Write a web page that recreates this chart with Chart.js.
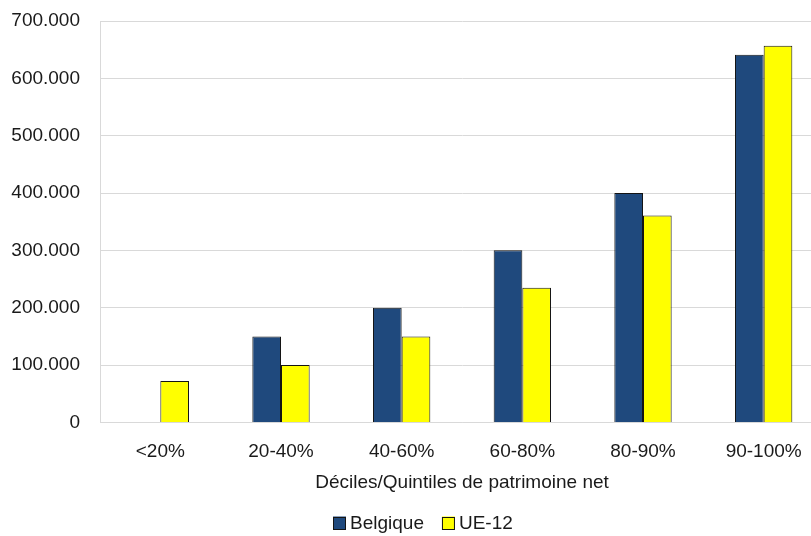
<!DOCTYPE html>
<html>
<head>
<meta charset="utf-8">
<script src="https://cdn.jsdelivr.net/npm/chart.js@4/dist/chart.umd.min.js"></script>
<style>
  html, body { margin: 0; padding: 0; background: #fff; overflow: hidden; }
  #wrap { width: 846px; height: 536px; }
</style>
</head>
<body>
<div id="wrap"><canvas id="c" width="846" height="536"></canvas></div>
<script>
// Net wealth by decile/quintile group
const categories = ['<20%', '20-40%', '40-60%', '60-80%', '80-90%', '90-100%'];
const belgique = [null, 150000, 200000, 300000, 400000, 641000];
const ue12 = [72000, 100000, 150000, 235000, 361000, 657000];
const yTicks = [0, 100000, 200000, 300000, 400000, 500000, 600000, 700000];

const FONT = "'Liberation Sans', Arial, sans-serif";
const SIZE = 19;
const INK = '#1a1a1a';
const GRID = '#d9d9d9';
const EDGE = '#141414';

// Thousands separated with a dot: 700.000
function fmt(v) {
  return String(Math.round(v)).replace(/\B(?=(\d{3})+(?!\d))/g, '.');
}

// Compact legend under the axis title: small square, short gap, label
const compactLegend = {
  id: 'compactLegend',
  afterDraw(chart) {
    const ctx = chart.ctx;
    const box = 13, gap = 4, spacing = 18;
    ctx.save();
    ctx.font = SIZE + 'px ' + FONT;
    const items = chart.data.datasets.map(ds => ({
      text: ds.label, fill: ds.backgroundColor, w: ctx.measureText(ds.label).width
    }));
    let total = 0;
    items.forEach((it, i) => { total += box + gap + it.w + (i ? spacing : 0); });
    let x = Math.round(chart.width / 2 - total / 2);
    const cy = 523;
    ctx.textBaseline = 'middle';
    ctx.textAlign = 'left';
    items.forEach(it => {
      ctx.fillStyle = it.fill;
      ctx.fillRect(x, cy - box / 2, box, box);
      ctx.strokeStyle = EDGE;
      ctx.lineWidth = 1;
      ctx.strokeRect(x + 0.5, Math.round(cy - box / 2) + 0.5, box - 1, box - 1);
      ctx.fillStyle = INK;
      ctx.fillText(it.text, x + box + gap, cy + 1);
      x += box + gap + it.w + spacing;
    });
    ctx.restore();
  }
};

new Chart(document.getElementById('c'), {
  type: 'bar',
  data: {
    labels: categories,
    datasets: [
      { label: 'Belgique', data: belgique, backgroundColor: '#1F497D',
        borderColor: EDGE, borderWidth: 1 },
      { label: 'UE-12', data: ue12, backgroundColor: '#FFFF00',
        borderColor: EDGE, borderWidth: 1 }
    ]
  },
  plugins: [compactLegend],
  options: {
    responsive: false,
    animation: false,
    devicePixelRatio: 1,
    layout: { padding: { top: 21, right: 22, bottom: 38, left: 0 } },
    datasets: { bar: { categoryPercentage: 0.475, barPercentage: 1 } },
    plugins: {
      legend: { display: false },
      tooltip: { enabled: false }
    },
    scales: {
      x: {
        grid: { display: false, drawTicks: false },
        border: { display: true, color: GRID, width: 1 },
        ticks: { color: INK, font: { family: FONT, size: SIZE }, padding: 18, maxRotation: 0 },
        title: {
          display: true, text: 'Déciles/Quintiles de patrimoine net',
          color: INK, font: { family: FONT, size: SIZE }, padding: { top: -10, bottom: 4 }
        }
      },
      y: {
        min: 0, max: 700000,
        afterFit(scale) {
          scale.width = 100;
          scale.paddingTop = 0;
          scale.paddingBottom = 0;
        },
        afterBuildTicks(scale) { scale.ticks = yTicks.map(v => ({ value: v })); },
        grid: { color: GRID, lineWidth: 1, drawTicks: false },
        border: { display: true, color: GRID, width: 1 },
        ticks: {
          color: INK, font: { family: FONT, size: SIZE }, padding: 20,
          callback: v => fmt(v)
        }
      }
    }
  }
});
</script>
</body>
</html>
